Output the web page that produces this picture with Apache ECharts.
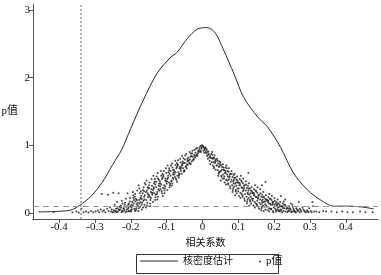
<!DOCTYPE html>
<html>
<head>
<meta charset="utf-8">
<script src="https://cdn.jsdelivr.net/npm/echarts@6/dist/echarts.min.js"></script>
<style>
  html, body { margin: 0; padding: 0; background: #fff; }
  #chart { width: 381px; height: 275px; }
</style>
</head>
<body>
<div id="chart"></div>
<script>
// 核密度估计曲线
const densityX = [-0.458, -0.416, -0.369, -0.343, -0.31, -0.28, -0.25, -0.226, -0.2, -0.165, -0.126, -0.089, -0.07, -0.042, -0.014, 0.014, 0.036, 0.059, 0.087, 0.115, 0.154, 0.182, 0.218, 0.254, 0.293, 0.33, 0.366, 0.405, 0.441, 0.478];
const densityY = [0.015, 0.02, 0.04, 0.11, 0.25, 0.45, 0.72, 0.93, 1.25, 1.67, 2.07, 2.3, 2.38, 2.58, 2.72, 2.74, 2.66, 2.41, 2.07, 1.71, 1.42, 1.27, 0.97, 0.59, 0.34, 0.19, 0.1, 0.1, 0.09, 0.06];

// 相关系数 vs p值
const pPoints = [
  [-0.416,0.015],[-0.363,0.01],[-0.352,0.02],[-0.345,0.005],[-0.338,0.06],[-0.332,0.01],[-0.325,0.02],[-0.318,0.005],[-0.311,0.03],[-0.305,0.01],[-0.298,0.02],[-0.292,0.035],[-0.288,0.01],[-0.284,0.05],[-0.281,0.28],[-0.279,0.02],[-0.275,0.04],[-0.271,0.01],[-0.266,0.06],[-0.264,0.27],[-0.262,0.03],[-0.258,0.08],[-0.255,0.02],[-0.253,0.05],[-0.251,0.01],[-0.249,0.30],
  [-0.242,0.03],[-0.248,0.01],[-0.245,0.12],[-0.241,0.06],[-0.247,0.04],[-0.243,0.02],
  [-0.233,0.05],[-0.238,0.16],[-0.236,0.02],[-0.231,0.09],[-0.239,0.01],[-0.234,0.29],[-0.232,0.04],[-0.237,0.07],
  [-0.224,0.03],[-0.228,0.11],[-0.221,0.06],[-0.226,0.01],[-0.223,0.14],[-0.229,0.05],[-0.222,0.02],[-0.227,0.08],[-0.225,0.18],
  [-0.218,0.04],[-0.213,0.09],[-0.216,0.15],[-0.211,0.02],[-0.219,0.07],[-0.214,0.21],[-0.212,0.05],[-0.217,0.12],[-0.215,0.01],[-0.211,0.10],
  [-0.206,0.08],[-0.203,0.17],[-0.209,0.29],[-0.201,0.04],[-0.207,0.12],[-0.204,0.02],[-0.202,0.22],[-0.208,0.06],[-0.205,0.14],[-0.201,0.10],[-0.206,0.03],
  [-0.197,0.05],[-0.191,0.19],[-0.195,0.11],[-0.193,0.26],[-0.199,0.02],[-0.192,0.14],[-0.198,0.08],[-0.194,0.31],[-0.196,0.16],[-0.190,0.06],[-0.193,0.22],[-0.198,0.12],
  [-0.184,0.09],[-0.189,0.24],[-0.181,0.15],[-0.186,0.04],[-0.183,0.19],[-0.188,0.28],[-0.180,0.11],[-0.185,0.06],[-0.182,0.33],[-0.187,0.17],[-0.189,0.03],[-0.184,0.13],[-0.186,0.21],
  [-0.170,0.12],[-0.175,0.29],[-0.178,0.07],[-0.172,0.21],[-0.176,0.36],[-0.173,0.16],[-0.179,0.03],[-0.171,0.25],[-0.177,0.19],[-0.174,0.09],[-0.172,0.32],[-0.176,0.14],[-0.178,0.41],[-0.173,0.22],
  [-0.168,0.15],[-0.163,0.32],[-0.166,0.08],[-0.161,0.26],[-0.169,0.21],[-0.164,0.38],[-0.162,0.12],[-0.167,0.29],[-0.165,0.18],[-0.161,0.44],[-0.169,0.05],[-0.163,0.24],[-0.166,0.34],[-0.162,0.20],
  [-0.157,0.19],[-0.151,0.36],[-0.155,0.11],[-0.153,0.29],[-0.159,0.42],[-0.152,0.23],[-0.158,0.31],[-0.154,0.15],[-0.156,0.48],[-0.150,0.26],[-0.153,0.38],[-0.158,0.08],[-0.151,0.27],[-0.155,0.33],
  [-0.144,0.22],[-0.149,0.41],[-0.141,0.30],[-0.146,0.14],[-0.143,0.35],[-0.148,0.45],[-0.140,0.27],[-0.145,0.19],[-0.142,0.50],[-0.147,0.24],[-0.149,0.37],[-0.144,0.31],[-0.146,0.10],[-0.141,0.40],
  [-0.130,0.27],[-0.135,0.44],[-0.138,0.34],[-0.132,0.19],[-0.136,0.38],[-0.133,0.50],[-0.139,0.30],[-0.131,0.23],[-0.137,0.55],[-0.134,0.29],[-0.132,0.42],[-0.136,0.36],[-0.138,0.16],[-0.133,0.46],
  [-0.126,0.31],[-0.122,0.49],[-0.129,0.38],[-0.124,0.24],[-0.121,0.43],[-0.128,0.54],[-0.123,0.35],[-0.127,0.28],[-0.125,0.59],[-0.121,0.33],[-0.129,0.46],[-0.122,0.40],[-0.126,0.20],[-0.124,0.51],
  [-0.117,0.35],[-0.111,0.52],[-0.115,0.42],[-0.113,0.29],[-0.119,0.47],[-0.112,0.58],[-0.118,0.39],[-0.114,0.32],[-0.116,0.62],[-0.110,0.37],[-0.113,0.50],[-0.118,0.44],[-0.111,0.25],[-0.115,0.55],
  [-0.104,0.39],[-0.109,0.56],[-0.101,0.46],[-0.106,0.33],[-0.103,0.51],[-0.108,0.62],[-0.100,0.43],[-0.105,0.36],[-0.102,0.66],[-0.107,0.41],[-0.109,0.54],[-0.104,0.48],[-0.106,0.29],[-0.101,0.59],
  [-0.090,0.43],[-0.095,0.60],[-0.098,0.50],[-0.092,0.38],[-0.096,0.55],[-0.093,0.66],[-0.099,0.47],[-0.091,0.41],[-0.097,0.70],[-0.094,0.45],[-0.092,0.58],[-0.096,0.52],[-0.098,0.34],[-0.093,0.63],
  [-0.086,0.48],[-0.082,0.64],[-0.089,0.55],[-0.084,0.43],[-0.081,0.59],[-0.088,0.70],[-0.083,0.52],[-0.087,0.46],[-0.085,0.73],[-0.081,0.50],[-0.089,0.62],[-0.082,0.57],[-0.086,0.40],[-0.084,0.67],
  [-0.077,0.53],[-0.071,0.68],[-0.075,0.60],[-0.073,0.49],[-0.079,0.63],[-0.072,0.74],[-0.078,0.57],[-0.074,0.51],[-0.076,0.77],[-0.070,0.55],[-0.073,0.66],[-0.078,0.61],[-0.071,0.46],[-0.075,0.71],
  [-0.064,0.58],[-0.069,0.72],[-0.061,0.65],[-0.066,0.55],[-0.063,0.68],[-0.068,0.78],[-0.060,0.62],[-0.065,0.57],[-0.062,0.80],[-0.067,0.60],[-0.069,0.70],[-0.064,0.66],[-0.066,0.52],[-0.061,0.75],
  [-0.050,0.63],[-0.055,0.76],[-0.058,0.70],[-0.052,0.61],[-0.056,0.73],[-0.053,0.81],[-0.059,0.67],[-0.051,0.62],[-0.057,0.84],[-0.054,0.66],[-0.052,0.74],[-0.056,0.71],[-0.058,0.58],
  [-0.046,0.69],[-0.042,0.80],[-0.049,0.74],[-0.044,0.66],[-0.041,0.78],[-0.048,0.85],[-0.043,0.72],[-0.047,0.68],[-0.045,0.87],[-0.041,0.71],[-0.049,0.79],[-0.042,0.76],
  [-0.037,0.74],[-0.031,0.84],[-0.035,0.79],[-0.033,0.72],[-0.039,0.82],[-0.032,0.88],[-0.038,0.77],[-0.034,0.73],[-0.036,0.90],[-0.030,0.76],[-0.033,0.83],
  [-0.024,0.80],[-0.029,0.88],[-0.021,0.84],[-0.026,0.78],[-0.023,0.86],[-0.028,0.92],[-0.020,0.82],[-0.025,0.79],[-0.022,0.93],[-0.027,0.83],
  [-0.016,0.86],[-0.012,0.92],[-0.019,0.89],[-0.014,0.84],[-0.011,0.90],[-0.018,0.95],[-0.013,0.88],[-0.017,0.85],[-0.015,0.96],
  [-0.006,0.92],[-0.002,0.97],[-0.009,0.94],[-0.004,0.90],[-0.001,1.00],[-0.008,0.97],[-0.003,0.95],[-0.007,0.91],[-0.005,0.99],
  [0.002,0.98],[0.006,0.93],[0.004,0.96],[0.009,0.90],[0.001,0.99],[0.007,0.95],[0.003,0.92],[0.008,0.97],[0.005,0.89],
  [0.012,0.93],[0.016,0.86],[0.014,0.90],[0.019,0.82],[0.011,0.88],[0.017,0.91],[0.013,0.84],[0.018,0.87],[0.015,0.80],[0.011,0.95],
  [0.024,0.87],[0.029,0.80],[0.021,0.84],[0.026,0.75],[0.023,0.82],[0.028,0.86],[0.020,0.77],[0.025,0.81],[0.022,0.72],[0.027,0.90],[0.029,0.70],
  [0.030,0.82],[0.035,0.74],[0.038,0.79],[0.032,0.68],[0.036,0.76],[0.033,0.81],[0.039,0.70],[0.031,0.75],[0.037,0.64],[0.034,0.85],[0.032,0.66],[0.036,0.78],
  [0.042,0.77],[0.046,0.68],[0.044,0.73],[0.049,0.61],[0.041,0.70],[0.047,0.76],[0.043,0.63],[0.048,0.69],[0.045,0.58],[0.041,0.80],[0.046,0.60],[0.049,0.72],[0.044,0.55],
  [0.057,0.72],[0.051,0.62],[0.055,0.68],[0.053,0.55],[0.059,0.64],[0.052,0.71],[0.058,0.57],[0.054,0.64],[0.056,0.51],[0.050,0.75],[0.053,0.54],[0.058,0.67],[0.051,0.48],
  [0.064,0.67],[0.069,0.57],[0.061,0.63],[0.066,0.49],[0.063,0.59],[0.068,0.66],[0.060,0.51],[0.065,0.59],[0.062,0.45],[0.067,0.70],[0.069,0.48],[0.064,0.62],[0.066,0.42],[0.061,0.54],
  [0.070,0.62],[0.075,0.52],[0.078,0.58],[0.072,0.44],[0.076,0.54],[0.073,0.61],[0.079,0.46],[0.071,0.54],[0.077,0.39],[0.074,0.66],[0.072,0.42],[0.076,0.57],[0.078,0.36],[0.073,0.49],
  [0.082,0.58],[0.086,0.47],[0.084,0.53],[0.089,0.39],[0.081,0.49],[0.087,0.56],[0.083,0.41],[0.088,0.49],[0.085,0.34],[0.081,0.62],[0.086,0.37],[0.089,0.52],[0.084,0.31],[0.087,0.44],
  [0.097,0.54],[0.091,0.43],[0.095,0.49],[0.093,0.34],[0.099,0.45],[0.092,0.52],[0.098,0.36],[0.094,0.45],[0.096,0.29],[0.090,0.58],[0.093,0.32],[0.098,0.48],[0.091,0.26],[0.095,0.40],
  [0.104,0.50],[0.109,0.38],[0.101,0.45],[0.106,0.30],[0.103,0.41],[0.108,0.48],[0.100,0.32],[0.105,0.41],[0.102,0.25],[0.107,0.55],[0.109,0.28],[0.104,0.44],[0.106,0.22],[0.101,0.36],
  [0.110,0.46],[0.115,0.34],[0.118,0.41],[0.112,0.26],[0.116,0.37],[0.113,0.44],[0.119,0.28],[0.111,0.37],[0.117,0.21],[0.114,0.51],[0.112,0.24],[0.116,0.40],[0.118,0.18],[0.113,0.32],
  [0.122,0.42],[0.126,0.30],[0.124,0.37],[0.129,0.22],[0.121,0.33],[0.127,0.40],[0.123,0.24],[0.128,0.33],[0.125,0.17],[0.121,0.47],[0.126,0.20],[0.129,0.36],[0.124,0.14],[0.127,0.28],[0.128,0.59],
  [0.137,0.38],[0.131,0.27],[0.135,0.33],[0.133,0.19],[0.139,0.29],[0.132,0.36],[0.138,0.21],[0.134,0.29],[0.136,0.14],[0.130,0.44],[0.133,0.17],[0.138,0.32],[0.131,0.11],[0.135,0.24],
  [0.144,0.35],[0.149,0.24],[0.141,0.30],[0.146,0.16],[0.143,0.26],[0.148,0.33],[0.140,0.18],[0.145,0.26],[0.142,0.11],[0.147,0.41],[0.149,0.14],[0.144,0.29],[0.146,0.08],[0.141,0.21],
  [0.150,0.32],[0.155,0.21],[0.158,0.27],[0.152,0.13],[0.156,0.23],[0.153,0.30],[0.159,0.15],[0.151,0.23],[0.157,0.09],[0.154,0.38],[0.152,0.11],[0.156,0.26],[0.158,0.06],[0.153,0.18],
  [0.162,0.29],[0.166,0.18],[0.164,0.24],[0.169,0.11],[0.161,0.20],[0.167,0.27],[0.163,0.13],[0.168,0.20],[0.165,0.07],[0.161,0.35],[0.166,0.09],[0.169,0.23],[0.164,0.04],[0.167,0.15],[0.166,0.41],
  [0.177,0.26],[0.171,0.16],[0.175,0.21],[0.173,0.09],[0.179,0.18],[0.172,0.24],[0.178,0.11],[0.174,0.17],[0.176,0.05],[0.170,0.31],[0.176,0.46],[0.178,0.20],[0.171,0.03],[0.175,0.13],
  [0.184,0.23],[0.189,0.14],[0.181,0.19],[0.186,0.07],[0.183,0.16],[0.188,0.21],[0.180,0.09],[0.185,0.14],[0.182,0.04],[0.187,0.28],[0.189,0.06],[0.184,0.18],[0.186,0.02],
  [0.190,0.21],[0.195,0.12],[0.198,0.16],[0.192,0.06],[0.196,0.14],[0.193,0.19],[0.199,0.08],[0.191,0.12],[0.197,0.03],[0.194,0.25],[0.192,0.05],[0.196,0.16],[0.198,0.01],
  [0.202,0.18],[0.206,0.10],[0.204,0.14],[0.209,0.05],[0.201,0.12],[0.207,0.16],[0.203,0.06],[0.208,0.11],[0.205,0.02],[0.201,0.22],[0.206,0.04],[0.209,0.13],
  [0.217,0.16],[0.211,0.08],[0.215,0.12],[0.213,0.04],[0.219,0.10],[0.212,0.14],[0.218,0.05],[0.214,0.09],[0.216,0.02],[0.210,0.20],[0.213,0.03],[0.219,0.25],
  [0.224,0.14],[0.229,0.07],[0.221,0.10],[0.226,0.03],[0.223,0.09],[0.228,0.12],[0.220,0.04],[0.225,0.07],[0.222,0.01],[0.227,0.17],
  [0.230,0.12],[0.235,0.06],[0.238,0.09],[0.232,0.02],[0.236,0.07],[0.233,0.10],[0.239,0.03],[0.231,0.20],[0.237,0.01],
  [0.242,0.10],[0.246,0.05],[0.244,0.07],[0.249,0.02],[0.241,0.06],[0.247,0.14],[0.243,0.03],[0.248,0.01],
  [0.252,0.09],[0.256,0.04],[0.254,0.06],[0.259,0.01],[0.251,0.12],[0.257,0.03],[0.253,0.02],
  [0.262,0.07],[0.266,0.03],[0.264,0.05],[0.269,0.16],[0.261,0.01],[0.267,0.04],
  [0.272,0.06],[0.276,0.02],[0.274,0.04],[0.279,0.08],[0.271,0.01],
  [0.282,0.05],[0.286,0.02],[0.284,0.03],[0.289,0.01],
  [0.292,0.04],[0.296,0.01],[0.294,0.02],[0.298,0.07],
  [0.302,0.03],[0.305,0.01],[0.307,0.16],[0.309,0.10],[0.312,0.02],[0.318,0.02],[0.326,0.01],[0.337,0.03],[0.345,0.02],[0.36,0.02],[0.375,0.01],[0.39,0.02],[0.405,0.01],[0.42,0.01],[0.44,0.02],[0.455,0.01],[0.475,0.01]
];

const xTicks = [-0.4, -0.3, -0.2, -0.1, 0, 0.1, 0.2, 0.3, 0.4];
const yTicks = [0, 1, 2, 3];
const criticalR = -0.344; // 竖虚线
const pLevel = 0.1;       // p = 0.1 水平线

const font = "'Liberation Serif', 'Noto Sans CJK SC', serif";
const axisColor = '#555';

const chart = echarts.init(document.getElementById('chart'), null, { renderer: 'canvas' });

chart.setOption({
  animation: false,
  backgroundColor: '#fff',
  textStyle: { fontFamily: font, color: '#111' },
  grid: { left: 33, right: 3, top: 4, bottom: 56, outerBoundsMode: 'none', containLabel: false },
  xAxis: {
    type: 'value',
    min: -0.473,
    max: 0.49,
    name: '相关系数',
    nameLocation: 'middle',
    nameGap: 17,
    nameTextStyle: { fontFamily: font, fontSize: 10, color: '#111' },
    axisLine: { onZero: false, lineStyle: { color: axisColor, width: 1 } },
    axisTick: { customValues: xTicks, length: 4, lineStyle: { color: axisColor } },
    axisLabel: { customValues: xTicks, fontSize: 11, margin: 3, color: '#111', fontFamily: font },
    splitLine: { show: false }
  },
  yAxis: {
    type: 'value',
    min: -0.09,
    max: 3.09,
    name: 'p值',
    nameLocation: 'middle',
    nameRotate: 0,
    nameGap: 15,
    nameTextStyle: { fontFamily: font, fontSize: 11, color: '#111' },
    axisLine: { show: true, onZero: false, lineStyle: { color: axisColor, width: 1 } },
    axisTick: { show: true, customValues: yTicks, length: 4, lineStyle: { color: axisColor } },
    axisLabel: { customValues: yTicks, fontSize: 11, margin: 3, color: '#111', fontFamily: font },
    splitLine: { show: false }
  },
  legend: [
    {
      data: [{ name: '核密度估计', icon: 'rect' }],
      left: 140,
      top: 256,
      padding: 0,
      itemWidth: 38,
      itemHeight: 1,
      textStyle: { fontFamily: font, fontSize: 10, color: '#111' }
    },
    {
      data: [{ name: 'p值', icon: 'circle' }],
      left: 259,
      top: 256,
      padding: 0,
      itemWidth: 2,
      itemHeight: 2,
      textStyle: { fontFamily: font, fontSize: 11, color: '#111' }
    }
  ],
  graphic: [
    {
      type: 'rect',
      left: 134,
      top: 252,
      shape: { width: 142, height: 19 },
      style: { fill: 'none', stroke: '#333', lineWidth: 1 },
      silent: true
    }
  ],
  series: [
    {
      name: '核密度估计',
      type: 'line',
      data: densityX.map((x, i) => [x, densityY[i]]),
      smooth: 0.3,
      symbol: 'none',
      lineStyle: { color: '#2a2a2a', width: 1 },
      itemStyle: { color: '#2a2a2a' },
      z: 3
    },
    {
      name: 'p值',
      type: 'scatter',
      data: pPoints,
      symbolSize: 2,
      itemStyle: { color: '#1a1a1a' },
      z: 2,
      markLine: {
        silent: true,
        symbol: 'none',
        label: { show: false },
        data: [
          { xAxis: criticalR, lineStyle: { type: [2, 2], color: '#999', width: 1.5 } },
          { yAxis: pLevel, lineStyle: { type: [6, 4], color: '#999', width: 1.2 } }
        ]
      }
    }
  ]
});
</script>
</body>
</html>
